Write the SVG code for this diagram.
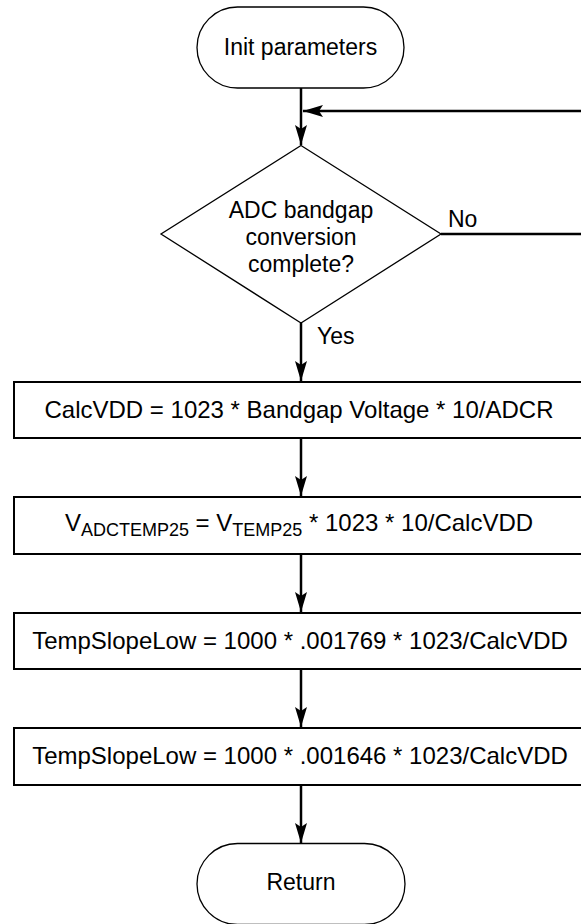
<svg xmlns="http://www.w3.org/2000/svg" width="581" height="924" viewBox="0 0 581 924">
<style>
  .t { font-family: "Liberation Sans", Arial, sans-serif; font-size: 23px; fill: #000; }
  .bt { font-family: "Liberation Sans", Arial, sans-serif; font-size: 24px; fill: #000; }
  .sub { font-size: 18px; }
  .term { fill: #fff; stroke: #000; stroke-width: 1.3; }
  .box { fill: #fff; stroke: #000; stroke-width: 2; }
  .dia { fill: #fff; stroke: #000; stroke-width: 1.3; }
  .con { fill: none; stroke: #000; stroke-width: 2.5; }
</style>
<defs>
  <marker id="ah" markerUnits="userSpaceOnUse" markerWidth="22" markerHeight="14" refX="20" refY="6" orient="auto">
    <path d="M0,0 L20,6 L0,12 L4,6 Z" fill="#000"/>
  </marker>
</defs>
<rect width="581" height="924" fill="#fff"/>
<g id="connectors">
  <line class="con" x1="301" y1="88" x2="301" y2="145" marker-end="url(#ah)"/>
  <line class="con" x1="590" y1="111" x2="303" y2="111" marker-end="url(#ah)"/>
  <line class="con" x1="441" y1="234" x2="590" y2="234"/>
  <line class="con" x1="301" y1="323" x2="301" y2="381" marker-end="url(#ah)"/>
  <line class="con" x1="301" y1="438" x2="301" y2="496" marker-end="url(#ah)"/>
  <line class="con" x1="301" y1="554" x2="301" y2="612" marker-end="url(#ah)"/>
  <line class="con" x1="301" y1="669" x2="301" y2="727" marker-end="url(#ah)"/>
  <line class="con" x1="301" y1="785" x2="301" y2="843" marker-end="url(#ah)"/>
  <text class="t" x="448" y="227">No</text>
  <text class="t" x="317" y="344">Yes</text>
</g>
<g id="init">
  <rect class="term" x="197" y="7" width="207" height="81" rx="40.5" ry="40.5"/>
  <text class="t" x="300.5" y="55" text-anchor="middle">Init parameters</text>
</g>
<g id="decision">
  <polygon class="dia" points="301,145.5 441,234 301,323 161,234"/>
  <text class="t" x="301" y="218" text-anchor="middle">ADC bandgap</text>
  <text class="t" x="301" y="245" text-anchor="middle">conversion</text>
  <text class="t" x="301" y="272" text-anchor="middle">complete?</text>
</g>
<g id="calcvdd">
  <rect class="box" x="14" y="382" width="580" height="56"/>
  <text class="bt" x="299" y="418" text-anchor="middle">CalcVDD = 1023 * Bandgap Voltage * 10/ADCR</text>
</g>
<g id="vadctemp">
  <rect class="box" x="14" y="497" width="580" height="57"/>
  <text class="bt" x="299" y="531" text-anchor="middle">V<tspan class="sub" dy="5">ADCTEMP25</tspan><tspan dy="-5"> = V</tspan><tspan class="sub" dy="5">TEMP25</tspan><tspan dy="-5"> * 1023 * 10/CalcVDD</tspan></text>
</g>
<g id="slope1">
  <rect class="box" x="14" y="613" width="580" height="56"/>
  <text class="bt" x="300" y="649" text-anchor="middle">TempSlopeLow = 1000 * .001769 * 1023/CalcVDD</text>
</g>
<g id="slope2">
  <rect class="box" x="14" y="728" width="580" height="57"/>
  <text class="bt" x="300" y="764" text-anchor="middle">TempSlopeLow = 1000 * .001646 * 1023/CalcVDD</text>
</g>
<g id="return">
  <rect class="term" x="197" y="843.5" width="208" height="81" rx="40.5" ry="40.5"/>
  <text class="t" x="301" y="890" text-anchor="middle">Return</text>
</g>
</svg>
